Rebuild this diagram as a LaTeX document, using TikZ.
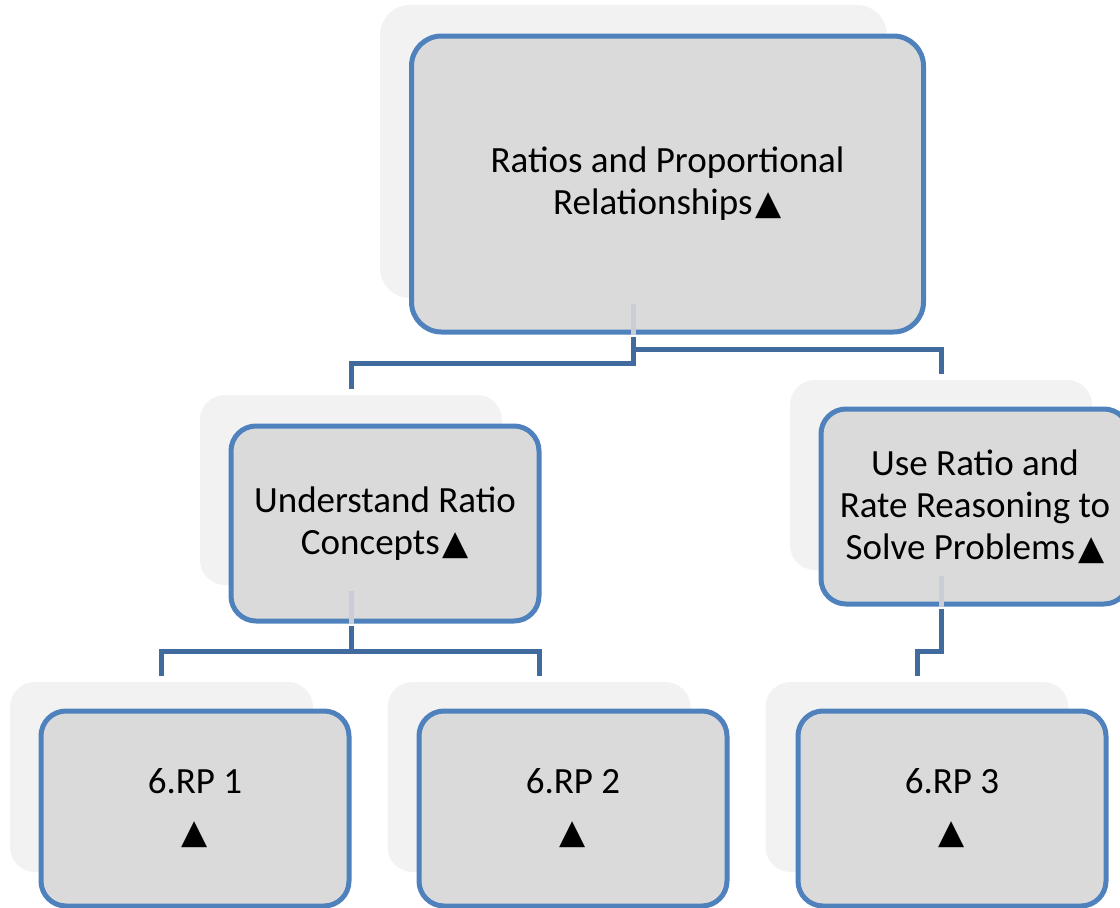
\documentclass[tikz,border=0pt]{standalone}
\usepackage{fontspec}
\setmainfont{Carlito}
\newfontfamily\symfont{DejaVu Sans}
\usetikzlibrary{calc}
\definecolor{boxblue}{RGB}{79,129,189}
\definecolor{boxfill}{RGB}{218,218,218}
\definecolor{shfill}{RGB}{242,242,242}
\definecolor{connc}{RGB}{65,106,158}
\definecolor{stubc}{RGB}{200,205,214}
\newcommand\tri{{\symfont\fontsize{34}{34}\selectfont ▲}}
\begin{document}
\begin{tikzpicture}[x=1pt,y=-1pt,
  mainbox/.style={draw=boxblue,line width=5pt,fill=boxfill,rounded corners=25pt,
    inner sep=0pt,align=center,font=\fontsize{37}{42}\selectfont,
    minimum width=308pt,minimum height=195pt},
  shbox/.style={fill=shfill,rounded corners=25pt,inner sep=0pt,draw=none,
    minimum width=302pt,minimum height=190pt},
  conn/.style={draw=connc,line width=5pt},
  stub/.style={draw=stubc,line width=5pt}]
\useasboundingbox (0,0) rectangle (1120,908);
\clip (0,0) rectangle (1120,908);
% shadow plates
\node[shbox,minimum width=507pt,minimum height=293pt,rounded corners=30pt] (sT) at (633.5,151.5) {};
\node[shbox] (sML) at (351,490) {};
\node[shbox] (sMR) at (941,475) {};
\node[shbox,minimum width=303pt] (sB1) at (161.5,777) {};
\node[shbox,minimum width=303pt] (sB2) at (539,777) {};
\node[shbox,minimum width=303pt] (sB3) at (917,777) {};
% main boxes
\node[mainbox,minimum width=512pt,minimum height=296pt,rounded corners=30pt] (top) at (667.5,184)
  {Ratios and Proportional\\Relationships\hspace{3pt}\tri};
\node[mainbox] (ml) at (385,523.5) {Understand Ratio\\Concepts\hspace{3pt}\tri};
\node[mainbox] (mr) at (975,506.5) {Use Ratio and\\Rate Reasoning to\\Solve Problems\hspace{3pt}\tri};
\node[mainbox] (b1) at (195,808.5) {6.RP 1\\[8pt]\tri};
\node[mainbox] (b2) at (573,808.5) {6.RP 2\\[8pt]\tri};
\node[mainbox] (b3) at (952,808.5) {6.RP 3\\[8pt]\tri};
% stubs inside the boxes
\draw[stub] ($(sT.south)+(0,6)$) -- (sT.south |- top.south);
\draw[stub] ($(sML.south)+(0,6)$) -- (sML.south |- ml.south);
\draw[stub] ($(sMR.south)+(0,6)$) -- (sMR.south |- mr.south);
% connectors
\draw[conn] ($(sT.south |- top.south)+(0,2)$) -- ++(0,27) -| ($(sML.north)+(0,-6)$);
\draw[conn] ($(sT.south |- top.south)+(0,2)$) -- ++(0,13) -| ($(sMR.north)+(0,-6)$);
\draw[conn] ($(sML.south |- ml.south)+(0,2)$) -- ++(0,26) -| ($(sB1.north)+(0,-6)$);
\draw[conn] ($(sML.south |- ml.south)+(0,2)$) -- ++(0,26) -| ($(sB2.north)+(0,-6)$);
\draw[conn] ($(sMR.south |- mr.south)+(0,2)$) -- ++(0,43) -| ($(sB3.north)+(0,-6)$);
\end{tikzpicture}
\end{document}
